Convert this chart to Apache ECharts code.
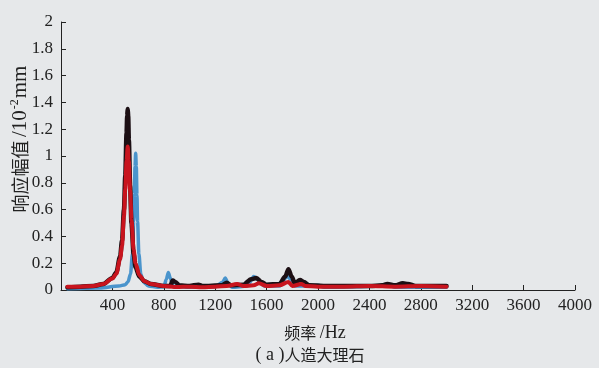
<!DOCTYPE html>
<html><head><meta charset="utf-8">
<script src="https://cdn.jsdelivr.net/npm/echarts@6/dist/echarts.min.js"></script>
<style>html,body{margin:0;padding:0;background:#e6e8ea}#c{width:599px;height:368px}</style>
</head><body><div id="c"></div>
<script>
const xTicks = [400, 800, 1200, 1600, 2000, 2400, 2800, 3200, 3600, 4000];
const yTicks = [0, 0.2, 0.4, 0.6, 0.8, 1, 1.2, 1.4, 1.6, 1.8, 2];

const blackFreq = [50,150,250,330,400,430,460,475,490,500,510,515,519,523,528,538,548,565,580,610,650,700,800,850,870,890,920,1000,1070,1100,1250,1290,1320,1420,1480,1520,1560,1600,1700,1745,1770,1795,1820,1860,1890,1930,2100,2400,2500,2540,2600,2660,2700,2760,3000];
const blackAmp  = [0.02,0.025,0.03,0.045,0.09,0.13,0.25,0.37,0.6,0.85,1.17,1.3,1.35,1.3,1.12,0.78,0.5,0.27,0.17,0.1,0.065,0.045,0.03,0.03,0.07,0.06,0.035,0.03,0.04,0.03,0.035,0.055,0.035,0.04,0.08,0.09,0.06,0.04,0.045,0.1,0.155,0.1,0.05,0.075,0.06,0.035,0.03,0.03,0.035,0.045,0.035,0.05,0.045,0.03,0.03];

const redFreq = [50,150,250,330,400,430,460,475,490,500,510,519,528,538,549,565,580,610,650,700,800,900,1000,1100,1200,1290,1370,1420,1500,1540,1600,1700,1770,1800,1870,1900,2000,2200,2400,2600,2800,3000];
const redAmp  = [0.025,0.025,0.03,0.045,0.085,0.12,0.23,0.33,0.55,0.75,0.96,1.07,0.96,0.74,0.52,0.3,0.2,0.11,0.065,0.045,0.03,0.022,0.025,0.02,0.025,0.03,0.045,0.03,0.035,0.05,0.03,0.035,0.06,0.03,0.045,0.03,0.025,0.025,0.03,0.025,0.03,0.025];

const blueFreq = [50,300,450,500,521,541,556,566,571,576,581,586,591,596,606,621,641,680,750,800,820,835,850,870,1000,1200,1260,1278,1300,1330,1450,1500,1530,1580,1700,1760,1790,1820,1950,2000,2050,2500,2550,2600,3000];
const blueAmp  = [0.01,0.015,0.03,0.04,0.06,0.12,0.27,0.51,0.71,0.92,1.02,0.92,0.71,0.51,0.27,0.12,0.06,0.03,0.02,0.025,0.08,0.13,0.09,0.03,0.02,0.025,0.06,0.09,0.05,0.02,0.03,0.1,0.08,0.03,0.03,0.1,0.08,0.03,0.03,0.035,0.02,0.03,0.04,0.02,0.02];

function pairs(f, a) { return f.map((v, i) => [v, a[i]]); }

const chart = echarts.init(document.getElementById('c'));
const serif = '"Liberation Serif", "Times New Roman", serif';
const cjk = '"Noto Sans CJK SC", sans-serif';
const axisColor = '#222';
function line(name, f, a, color, w) {
  return { name, type: 'line', data: pairs(f, a), showSymbol: false, symbol: 'none',
    smooth: 0.3, smoothMonotone: 'x', lineStyle: { color, width: w, cap: 'round', join: 'round' }, itemStyle: { color }, z: 2 };
}
const txt = '#222';
chart.setOption({
  backgroundColor: '#e6e8ea',
  animation: false,
  textStyle: { fontFamily: serif },
  grid: { left: 61, right: 24, top: 22, bottom: 78 },
  xAxis: {
    type: 'value', min: 0, max: 4000, interval: 400,
    axisLine: { lineStyle: { color: axisColor, width: 1 } },
    axisTick: { inside: true, length: 5, lineStyle: { color: axisColor, width: 1 } },
    splitLine: { show: false },
    axisLabel: { color: txt, fontFamily: serif, fontSize: 17, margin: 7, showMinLabel: false,
      formatter: v => xTicks.includes(v) ? String(v) : '' }
  },
  yAxis: {
    type: 'value', min: 0, max: 2, interval: 0.2,
    axisLine: { show: true, lineStyle: { color: axisColor, width: 1 } },
    axisTick: { show: true, inside: true, length: 5, lineStyle: { color: axisColor, width: 1 } },
    splitLine: { show: false },
    axisLabel: { color: txt, fontFamily: serif, fontSize: 17, margin: 8,
      formatter: v => { const t = yTicks.find(y => Math.abs(y - v) < 1e-6); return t === undefined ? '' : String(t); } }
  },
  series: [
    line('blue', blueFreq, blueAmp, '#4a94cc', 3.5),
    line('black', blackFreq, blackAmp, '#1c0f14', 4.5),
    line('red', redFreq, redAmp, '#c8141e', 4)
  ],
  graphic: [
    { type: 'text', x: 20, y: 139, rotation: Math.PI / 2,
      style: { text: '{c|响应幅值} {l|/10}{sup|-2}{l|mm}', fill: txt, align: 'center', verticalAlign: 'middle',
        rich: {
          c: { fontFamily: cjk, fontSize: 18, fill: txt },
          l: { fontFamily: serif, fontSize: 21, fill: txt },
          sup: { fontSize: 12, fontFamily: serif, verticalAlign: 'top', padding: [0, 1, 10, 1], fill: txt } } } },
    { type: 'text', x: 315, y: 333,
      style: { text: '{c|频率} {l|/Hz}', fill: txt, align: 'center', verticalAlign: 'middle',
        rich: { c: { fontFamily: cjk, fontSize: 16, fill: txt }, l: { fontFamily: serif, fontSize: 18, fill: txt } } } },
    { type: 'text', x: 310, y: 355,
      style: { text: '{l|( a )}{c|人造大理石}', fill: txt, align: 'center', verticalAlign: 'middle',
        rich: { c: { fontFamily: cjk, fontSize: 16, fill: txt }, l: { fontFamily: serif, fontSize: 18, fill: txt } } } }
  ]
});
</script></body></html>
